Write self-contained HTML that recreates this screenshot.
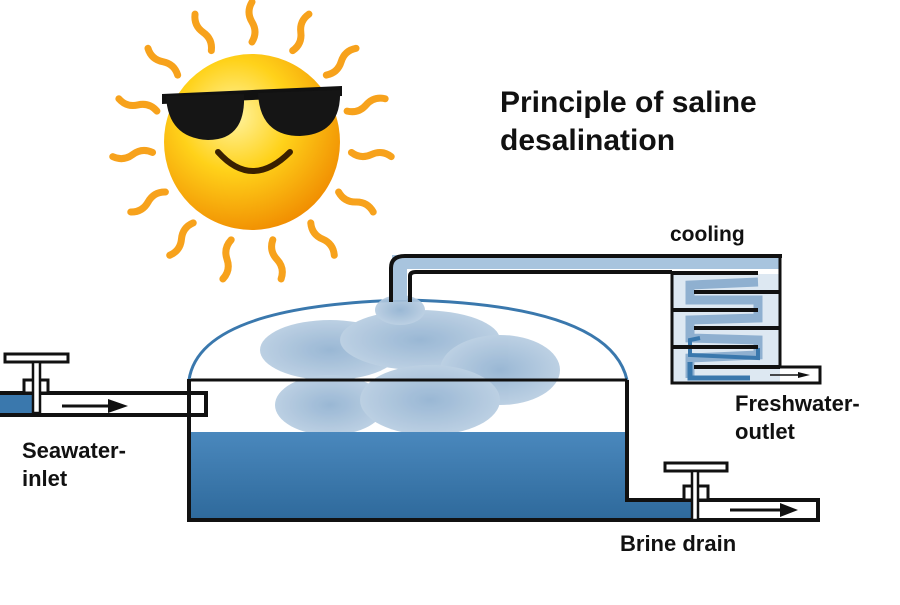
<!DOCTYPE html>
<html><head><meta charset="utf-8"><style>
body{margin:0;background:#fff;width:900px;height:600px;overflow:hidden}
text{font-family:"Liberation Sans",Arial,sans-serif;font-weight:bold;fill:#111}
</style></head><body>
<svg width="900" height="600" viewBox="0 0 900 600" xmlns="http://www.w3.org/2000/svg">
<defs>
<radialGradient id="sun" cx="0.4" cy="0.35" r="0.7">
<stop offset="0" stop-color="#fff3a0"/><stop offset="0.45" stop-color="#ffd21a"/><stop offset="1" stop-color="#f08a00"/>
</radialGradient>
<linearGradient id="water" x1="0" y1="0" x2="0" y2="1">
<stop offset="0" stop-color="#4a88bd"/><stop offset="1" stop-color="#2f6a9c"/>
</linearGradient>
<radialGradient id="steam" cx="0.5" cy="0.5" r="0.5">
<stop offset="0" stop-color="#8fb0d0"/><stop offset="1" stop-color="#b5cbe0"/>
</radialGradient>
</defs>
<g stroke="#f7a21c" stroke-width="7" fill="none" stroke-linecap="round">
<g transform="translate(252,142)">
<path d="M0,-100 q6,-10 0,-20 q-6,-10 0,-20" transform="rotate(0)"/>
<path d="M0,-100 q6,-10 0,-20 q-6,-10 0,-20" transform="rotate(24)"/>
<path d="M0,-100 q6,-10 0,-20 q-6,-10 0,-20" transform="rotate(48)"/>
<path d="M0,-100 q6,-10 0,-20 q-6,-10 0,-20" transform="rotate(72)"/>
<path d="M0,-100 q6,-10 0,-20 q-6,-10 0,-20" transform="rotate(96)"/>
<path d="M0,-100 q6,-10 0,-20 q-6,-10 0,-20" transform="rotate(120)"/>
<path d="M0,-100 q6,-10 0,-20 q-6,-10 0,-20" transform="rotate(144)"/>
<path d="M0,-100 q6,-10 0,-20 q-6,-10 0,-20" transform="rotate(168)"/>
<path d="M0,-100 q6,-10 0,-20 q-6,-10 0,-20" transform="rotate(192)"/>
<path d="M0,-100 q6,-10 0,-20 q-6,-10 0,-20" transform="rotate(216)"/>
<path d="M0,-100 q6,-10 0,-20 q-6,-10 0,-20" transform="rotate(240)"/>
<path d="M0,-100 q6,-10 0,-20 q-6,-10 0,-20" transform="rotate(264)"/>
<path d="M0,-100 q6,-10 0,-20 q-6,-10 0,-20" transform="rotate(288)"/>
<path d="M0,-100 q6,-10 0,-20 q-6,-10 0,-20" transform="rotate(312)"/>
<path d="M0,-100 q6,-10 0,-20 q-6,-10 0,-20" transform="rotate(336)"/>
</g></g>
<circle cx="252" cy="142" r="88" fill="url(#sun)"/>
<path d="M162,94 L342,86 L342,96 L162,104Z" fill="#111"/>
<path d="M166,96 L244,94 Q246,140 208,140 Q168,138 166,96Z" fill="#151515"/>
<path d="M258,93 L340,90 Q342,134 300,136 Q260,136 258,93Z" fill="#151515"/>
<path d="M218,152 Q252,190 290,152" stroke="#3a2000" stroke-width="6" fill="none" stroke-linecap="round"/>
<text x="500" y="112" font-size="30">Principle of saline</text>
<text x="500" y="150" font-size="30">desalination</text>
<text x="670" y="241" font-size="21">cooling</text>
<text x="735" y="411" font-size="22">Freshwater-</text>
<text x="735" y="439" font-size="22">outlet</text>
<text x="22" y="458" font-size="22">Seawater-</text>
<text x="22" y="486" font-size="22">inlet</text>
<text x="620" y="551" font-size="22">Brine drain</text>
<path d="M189,380 Q200,305 408,300 Q610,305 627,380" fill="none" stroke="#3a78ad" stroke-width="3"/>
<g fill="url(#steam)" opacity="0.9">
<ellipse cx="330" cy="350" rx="70" ry="30"/>
<ellipse cx="420" cy="340" rx="80" ry="30"/>
<ellipse cx="500" cy="370" rx="60" ry="35"/>
<ellipse cx="330" cy="405" rx="55" ry="30"/>
<ellipse cx="430" cy="400" rx="70" ry="35"/>
<ellipse cx="400" cy="310" rx="25" ry="15"/>
</g>
<path d="M191,432 L627,432 L627,500 L697,500 L697,518 L191,518Z" fill="url(#water)"/>
<path d="M191,380 L627,380" stroke="#111" stroke-width="3"/>
<path d="M189,379 L189,520 L697,520 M627,380 L627,500 L697,500" stroke="#111" stroke-width="4" fill="none"/>
<rect x="-5" y="393" width="211" height="22" fill="none" stroke="#111" stroke-width="4"/>
<rect x="0" y="395" width="35" height="18" fill="#3a78ad"/>
<path d="M62,406 L112,406" stroke="#111" stroke-width="3"/><path d="M108,399 L128,406 L108,413Z" fill="#111"/>
<rect x="5" y="354" width="63" height="8" fill="#fff" stroke="#111" stroke-width="3"/>
<rect x="24" y="380" width="24" height="13" fill="#fff" stroke="#111" stroke-width="3"/>
<rect x="33" y="362" width="7" height="51" fill="#fff" stroke="#111" stroke-width="2.5"/>
<rect x="697" y="500" width="121" height="20" fill="#fff" stroke="#111" stroke-width="4"/>
<path d="M730,510 L785,510" stroke="#111" stroke-width="3"/><path d="M780,503 L798,510 L780,517Z" fill="#111"/>
<rect x="665" y="463" width="62" height="8" fill="#fff" stroke="#111" stroke-width="3"/>
<rect x="684" y="486" width="24" height="14" fill="#fff" stroke="#111" stroke-width="3"/>
<rect x="692" y="471" width="6" height="49" fill="#fff" stroke="#111" stroke-width="2.5"/>
<path d="M392,262 L780,262" stroke="#a8c4de" stroke-width="14"/>
<path d="M400,300 L400,262" stroke="#a8c4de" stroke-width="14"/>
<path d="M391,302 L391,268 Q391,256 405,256 L782,256" fill="none" stroke="#111" stroke-width="4"/>
<path d="M410,302 L410,276 Q410,272 416,272 L672,272" fill="none" stroke="#111" stroke-width="4"/>
<rect x="672" y="274" width="108" height="108" fill="#dde8f2"/>
<path d="M758,282 L690,285 L690,300 L758,300 L758,318 L690,320 L690,338 L758,340 L758,355 L690,358 L690,378" fill="none" stroke="#8fb0d0" stroke-width="9"/>
<path d="M700,338 L690,340 L690,355 L758,358 L758,348" fill="none" stroke="#3a78ad" stroke-width="4"/>
<path d="M690,362 L690,378 L750,378" fill="none" stroke="#3a78ad" stroke-width="5"/>
<path d="M672,272 L672,383 L820,383 L820,367 L780,367 L780,256" fill="none" stroke="#111" stroke-width="3"/>
<g stroke="#111" stroke-width="4">
<path d="M672,273 L758,273"/>
<path d="M694,292 L780,292"/>
<path d="M672,310 L758,310"/>
<path d="M694,328 L780,328"/>
<path d="M672,347 L758,347"/>
<path d="M694,367 L780,367"/>
</g>
<path d="M770,375 L800,375" stroke="#111" stroke-width="1.5"/><path d="M798,372 L810,375 L798,378Z" fill="#111"/>
</svg>
</body></html>
